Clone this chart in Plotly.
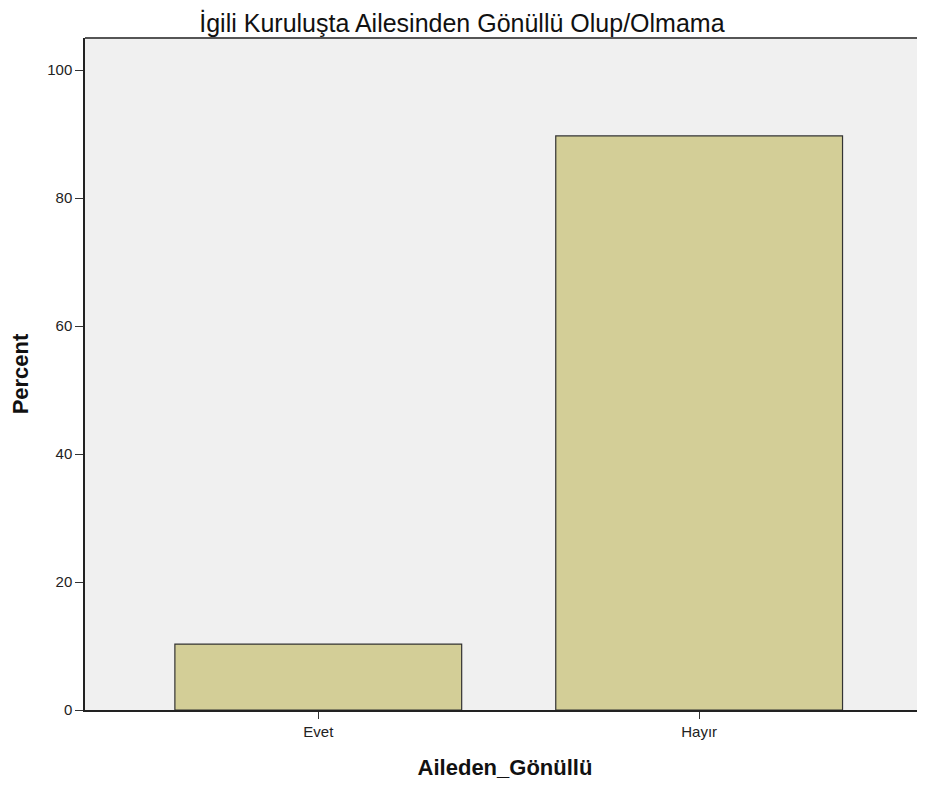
import plotly.graph_objects as go

categories = ["Evet", "Hayır"]
percent = [10.3, 89.7]
y_ticks = [0, 20, 40, 60, 80, 100]

fig = go.Figure()
fig.add_trace(go.Bar(
    x=[0, 1], y=percent,
    width=0.753,
    marker=dict(color="#D3CE97", line=dict(color="#333333", width=1.2)),
    hoverinfo="skip",
))

fig.update_layout(
    width=917, height=772,
    margin=dict(l=77, r=0, t=30, b=70),
    paper_bgcolor="white",
    plot_bgcolor="#F0F0F0",
    showlegend=False,
    font=dict(family="Liberation Sans, Arial, sans-serif", color="#222222"),
    title=dict(
        text="İgili Kuruluşta Ailesinden Gönüllü Olup/Olmama",
        x=0.495, xanchor="center", y=0.98, yanchor="middle",
        font=dict(size=25, color="#111111"),
    ),
    xaxis=dict(
        range=[-0.6125, 1.593],
        tickmode="array", tickvals=[0, 1], ticktext=categories,
        showgrid=False, zeroline=False,
        showline=True, linecolor="#222222", linewidth=1.5,
        ticks="outside", ticklen=7, tickcolor="#333333", tickwidth=1,
        tickfont=dict(size=15, color="#222222"),
        title=dict(text="<b>Aileden_Gönüllü</b>", font=dict(size=22, color="#111111"), standoff=25),
    ),
    yaxis=dict(
        range=[0, 105],
        tickmode="array", tickvals=y_ticks,
        showgrid=False, zeroline=False,
        showline=True, linecolor="#222222", linewidth=1.5,
        ticks="outside", ticklen=8, tickcolor="#333333", tickwidth=1,
        tickfont=dict(size=15, color="#222222"),
        title=dict(text="<b>Percent</b>", font=dict(size=22, color="#111111"), standoff=14),
    ),
    shapes=[dict(type="line", xref="paper", yref="paper", x0=0, x1=1, y0=1, y1=1,
                 line=dict(color="#555555", width=2))],
)

fig.write_html("out.html")
